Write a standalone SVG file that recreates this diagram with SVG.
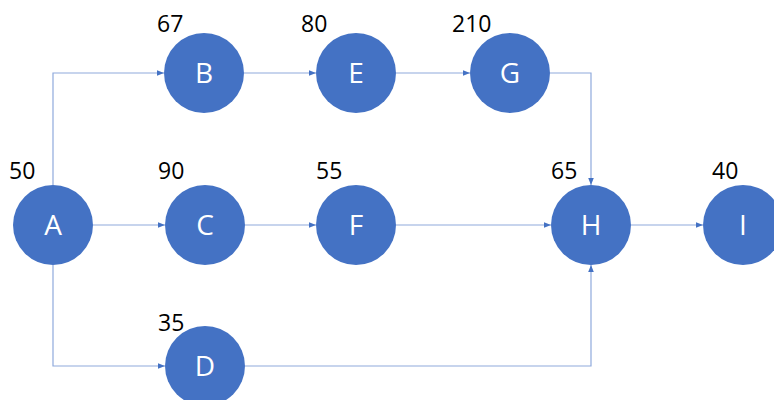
<svg xmlns="http://www.w3.org/2000/svg" width="774" height="400" viewBox="0 0 774 400">
  <style>
    .node circle { fill: #4472C4; }
    .node .name { fill: #ffffff; font-family: "Open Sans", "Noto Sans", sans-serif; font-size: 28px; text-anchor: middle; }
    .weight { fill: #000000; font-family: "Open Sans", "Noto Sans", sans-serif; font-size: 23px; }
    .edges path { fill: none; stroke: #8FAADC; stroke-width: 1.2; marker-end: url(#arrow); }
  </style>
  <defs>
    <marker id="arrow" markerUnits="userSpaceOnUse" markerWidth="8" markerHeight="8" viewBox="0 0 8 8" refX="7" refY="4" orient="auto">
      <path d="M0,1.2 L7,4 L0,6.8 Z" fill="#4472C4"/>
    </marker>
  </defs>
  <rect width="774" height="400" fill="#ffffff"/>

  <g class="edges" id="connectors">
    <path d="M53,185 V73 H164"/>
    <path d="M93,225 H165"/>
    <path d="M53,265 V366 H165"/>
    <path d="M244,73 H316"/>
    <path d="M396,73 H470"/>
    <path d="M550,73 H591 V185"/>
    <path d="M245,225 H316"/>
    <path d="M396,225 H551"/>
    <path d="M245,366 H591 V265"/>
    <path d="M631,225 H703"/>
  </g>

  <g class="node" id="node-A"><circle cx="53" cy="225" r="40"/><text class="name" x="53" y="235">A</text></g>
  <g class="node" id="node-B"><circle cx="204" cy="73" r="40"/><text class="name" x="204" y="83">B</text></g>
  <g class="node" id="node-C"><circle cx="205" cy="225" r="40"/><text class="name" x="205" y="235">C</text></g>
  <g class="node" id="node-D"><circle cx="205" cy="366" r="40"/><text class="name" x="205" y="376">D</text></g>
  <g class="node" id="node-E"><circle cx="356" cy="73" r="40"/><text class="name" x="356" y="83">E</text></g>
  <g class="node" id="node-F"><circle cx="356" cy="225" r="40"/><text class="name" x="356" y="235">F</text></g>
  <g class="node" id="node-G"><circle cx="510" cy="73" r="40"/><text class="name" x="510" y="83">G</text></g>
  <g class="node" id="node-H"><circle cx="591" cy="225" r="40"/><text class="name" x="591" y="235">H</text></g>
  <g class="node" id="node-I"><circle cx="743" cy="225" r="40"/><text class="name" x="743" y="235">I</text></g>

  <g id="weights">
    <text class="weight" x="9" y="179">50</text>
    <text class="weight" x="157" y="32">67</text>
    <text class="weight" x="158" y="179">90</text>
    <text class="weight" x="158" y="331">35</text>
    <text class="weight" x="301" y="32">80</text>
    <text class="weight" x="316" y="179">55</text>
    <text class="weight" x="452" y="32">210</text>
    <text class="weight" x="551" y="179">65</text>
    <text class="weight" x="712" y="179">40</text>
  </g>
</svg>
